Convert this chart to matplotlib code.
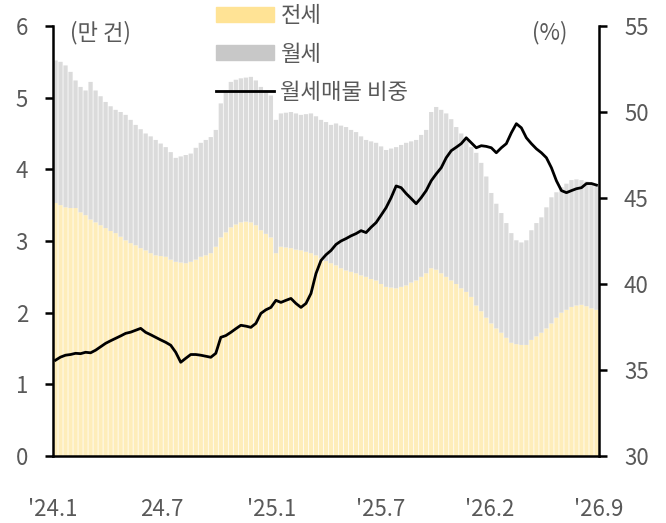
import matplotlib
matplotlib.use('Agg')
import matplotlib.pyplot as plt
from matplotlib.patches import Patch
from matplotlib.lines import Line2D
import numpy as np

plt.rcParams['font.family'] = ['Noto Sans CJK KR', 'DejaVu Sans']

# 전세 매물 (만 건)
jeonse = [3.53, 3.50, 3.47, 3.46, 3.46, 3.40, 3.36, 3.30, 3.26, 3.22,
          3.18, 3.14, 3.11, 3.06, 3.01, 2.97, 2.94, 2.90, 2.87, 2.83,
          2.80, 2.79, 2.78, 2.74, 2.71, 2.70, 2.69, 2.71, 2.74, 2.78,
          2.80, 2.83, 2.92, 3.05, 3.12, 3.19, 3.23, 3.26, 3.27, 3.26,
          3.22, 3.15, 3.10, 3.05, 2.83, 2.92, 2.91, 2.90, 2.88, 2.87,
          2.85, 2.83, 2.80, 2.76, 2.72, 2.69, 2.66, 2.62, 2.59, 2.57,
          2.55, 2.52, 2.50, 2.47, 2.45, 2.40, 2.36, 2.35, 2.34, 2.36,
          2.38, 2.42, 2.45, 2.50, 2.55, 2.62, 2.60, 2.55, 2.50, 2.45,
          2.40, 2.34, 2.29, 2.22, 2.10, 2.02, 1.93, 1.85, 1.78, 1.72,
          1.65, 1.58, 1.56, 1.55, 1.55, 1.62, 1.67, 1.72, 1.78, 1.85,
          1.93, 2.00, 2.04, 2.08, 2.10, 2.11, 2.09, 2.06, 2.04]

# 월세 매물 (만 건)
wolse = [1.99, 2.00, 1.98, 1.90, 1.78, 1.75, 1.74, 1.92, 1.84, 1.80,
         1.76, 1.74, 1.72, 1.74, 1.75, 1.72, 1.68, 1.66, 1.63, 1.63,
         1.61, 1.57, 1.53, 1.50, 1.45, 1.48, 1.51, 1.51, 1.56, 1.59,
         1.61, 1.62, 1.63, 1.87, 1.98, 2.03, 2.02, 2.01, 2.01, 2.03,
         2.02, 2.00, 2.00, 1.98, 1.86, 1.86, 1.88, 1.90, 1.90, 1.89,
         1.92, 1.95, 1.94, 1.93, 1.94, 1.93, 1.98, 1.99, 2.00, 1.98,
         1.97, 1.94, 1.91, 1.92, 1.92, 1.92, 1.91, 1.94, 1.97, 1.98,
         1.99, 1.97, 1.96, 1.98, 2.00, 2.18, 2.27, 2.28, 2.28, 2.25,
         2.19, 2.16, 2.12, 2.09, 2.13, 2.07, 1.97, 1.82, 1.74, 1.67,
         1.60, 1.53, 1.45, 1.43, 1.46, 1.53, 1.58, 1.61, 1.69, 1.76,
         1.75, 1.75, 1.76, 1.77, 1.76, 1.74, 1.74, 1.75, 1.73]

# 월세매물 비중 (%)
ratio = [35.57, 35.75, 35.86, 35.90, 35.97, 35.95, 36.03, 36.00, 36.15, 36.35,
         36.55, 36.70, 36.84, 36.98, 37.13, 37.20, 37.31, 37.42, 37.19, 37.05,
         36.90, 36.75, 36.61, 36.44, 36.03, 35.45, 35.68, 35.90, 35.90, 35.86,
         35.80, 35.74, 35.97, 36.90, 37.00, 37.19, 37.40, 37.60, 37.55, 37.48,
         37.71, 38.29, 38.50, 38.64, 39.05, 38.93, 39.05, 39.16, 38.87, 38.64,
         38.87, 39.45, 40.61, 41.37, 41.70, 41.95, 42.30, 42.50, 42.64, 42.80,
         42.93, 43.10, 42.99, 43.30, 43.57, 44.00, 44.44, 45.02, 45.70, 45.60,
         45.26, 44.97, 44.67, 45.02, 45.43, 46.00, 46.40, 46.76, 47.34, 47.75,
         47.95, 48.16, 48.50, 48.21, 47.92, 48.04, 48.00, 47.92, 47.63, 47.92,
         48.16, 48.79, 49.32, 49.08, 48.50, 48.16, 47.86, 47.63, 47.34, 46.76,
         46.00, 45.43, 45.31, 45.43, 45.54, 45.60, 45.84, 45.84, 45.75]

tick_labels = ["'24.1", "24.7", "'25.1", "'25.7", "'26.2", "'26.9"]

text_c = '#595959'
x = np.arange(len(jeonse))

fig = plt.figure(figsize=(6.66, 5.23), dpi=100)
ax = fig.add_axes([53/666, 1 - 456/523, 546/666, 430/523])

# snap=False keeps the thin white gaps between bars even
ax.bar(x, jeonse, width=0.85, color='#FEEDBA', linewidth=0, snap=False)
ax.bar(x, wolse, bottom=jeonse, width=0.85, color='#DBDBDB', linewidth=0,
       snap=False)
ax.set_xlim(-0.5, len(x) - 0.5)
ax.set_ylim(0, 6)
ax.set_yticks(range(0, 7))

ticks = np.linspace(-0.5, len(x) - 0.5, len(tick_labels))
ax.set_xticks(ticks)
ax.set_xticklabels(tick_labels)

ax2 = ax.twinx()
ax2.plot(x, ratio, color='black', lw=2.0)
ax2.set_ylim(30, 55)
ax2.set_yticks(range(30, 56, 5))

for a in (ax, ax2):
    for s in a.spines.values():
        s.set_visible(False)
ax.spines['left'].set_visible(True)
ax.spines['bottom'].set_visible(True)
ax2.spines['right'].set_visible(True)
for s in (ax.spines['left'], ax.spines['bottom'], ax2.spines['right']):
    s.set_linewidth(1.8)
    s.set_color('black')

ax.tick_params(axis='y', direction='out', length=6, width=1.8, pad=12,
               labelsize=16, labelcolor=text_c)
ax.tick_params(axis='x', length=0, pad=30, labelsize=16, labelcolor=text_c)
ax2.tick_params(axis='y', direction='out', length=6, width=1.8, pad=12,
                labelsize=16, labelcolor=text_c)

fig.text(100/666, 1 - 33/523, '(만 건)', fontsize=16, color=text_c,
         ha='center', va='center')
fig.text(550/666, 1 - 33/523, '(%)', fontsize=16, color=text_c,
         ha='center', va='center')

handles = [Patch(color='#FFE395'), Patch(color='#C8C8C8'),
           Line2D([], [], color='black', lw=2)]
labels = ['전세', '월세', '월세매물 비중']
fig.legend(handles, labels, loc='upper left',
           bbox_to_anchor=(216/666, 1 - 4/523), frameon=False,
           fontsize=16, labelcolor=text_c, handlelength=2.6,
           handleheight=0.65, handletextpad=0.3, labelspacing=0.7,
           borderpad=0, borderaxespad=0)

fig.savefig('out.png', dpi=100)
